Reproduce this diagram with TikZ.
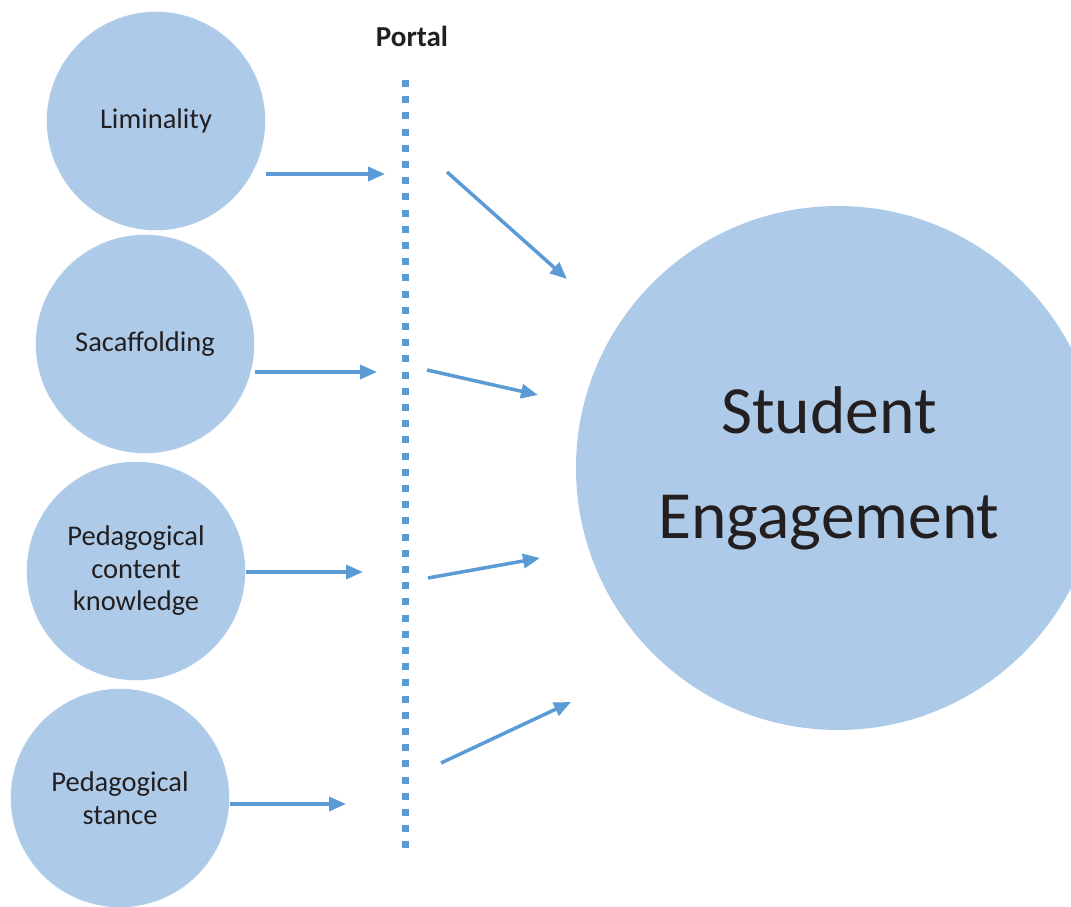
\documentclass[tikz,border=0pt]{standalone}
\usepackage{fontspec}
\setmainfont{Carlito}
\usetikzlibrary{arrows.meta}
\definecolor{bubble}{RGB}{173,203,233}
\definecolor{linkblue}{RGB}{91,155,213}
\definecolor{inktext}{RGB}{35,31,32}

\begin{document}
\begin{tikzpicture}[
  x=1pt,y=-1pt,
  every node/.style={align=center,text=inktext},
  factor/.style={circle,fill=bubble,draw=white,inner sep=0pt,minimum size=219pt,
    font=\fontsize{28.5}{32.5}\selectfont},
  outcome/.style={circle,fill=bubble,inner sep=0pt,minimum size=524pt,
    font=\fontsize{67.5}{105}\selectfont},
  portal/.style={linkblue,line width=7pt,dash pattern=on 7pt off 9.2pt},
  to/.style={-{Triangle[length=17pt,width=14pt]},linkblue,line width=3.5pt,shorten >=0pt}]

  \useasboundingbox (0,0) rectangle (1071,907);
  \clip (0,0) rectangle (1071,907);

  % Position the factor circles and the outcome circle
  \node[factor] (Lim) at (156,121) {Liminality};
  \node[factor] (Scaf) at (145,344) {Sacaffolding};
  \node[factor] (PCK) at (136,571) {Pedagogical\\content\\knowledge};
  \node[factor] (Stance) at (120,798) {Pedagogical\\stance};
  \node[outcome] (Engage) at (838,468) {};
  \node[font=\fontsize{67.5}{105}\selectfont] (EngageText) at ([xshift=-9pt]Engage.center) {Student\\Engagement};

  % The portal
  \coordinate (PortalTop) at (405,80);
  \coordinate (PortalBot) at (405,852);
  \draw[portal] (PortalTop) -- (PortalBot);
  \node[font=\bfseries\fontsize{29}{33}\selectfont] (PortalLabel) at (412,36) {Portal};

  % Arrow ends in front of and behind the portal
  \coordinate (LimIn) at (385,174);
  \coordinate (ScafIn) at (377,372);
  \coordinate (PCKIn) at (363,572);
  \coordinate (StanceIn) at (346,804);
  \coordinate (LimOut) at (447,172);
  \coordinate (ScafOut) at (427,370);
  \coordinate (PCKOut) at (428,578);
  \coordinate (StanceOut) at (441,763);
  \coordinate (LimTip) at (567,279);
  \coordinate (ScafTip) at (538,395);
  \coordinate (PCKTip) at (540,558);
  \coordinate (StanceTip) at (571,702);

  % Draw the arrows into the portal and on to engagement
  \draw[to] (Lim.east |- LimIn) -- (LimIn);
  \draw[to] (Scaf.east |- ScafIn) -- (ScafIn);
  \draw[to] (PCK.east |- PCKIn) -- (PCKIn);
  \draw[to] (Stance.east |- StanceIn) -- (StanceIn);
  \draw[to] (LimOut) -- (LimTip);
  \draw[to] (ScafOut) -- (ScafTip);
  \draw[to] (PCKOut) -- (PCKTip);
  \draw[to] (StanceOut) -- (StanceTip);
\end{tikzpicture}
\end{document}
